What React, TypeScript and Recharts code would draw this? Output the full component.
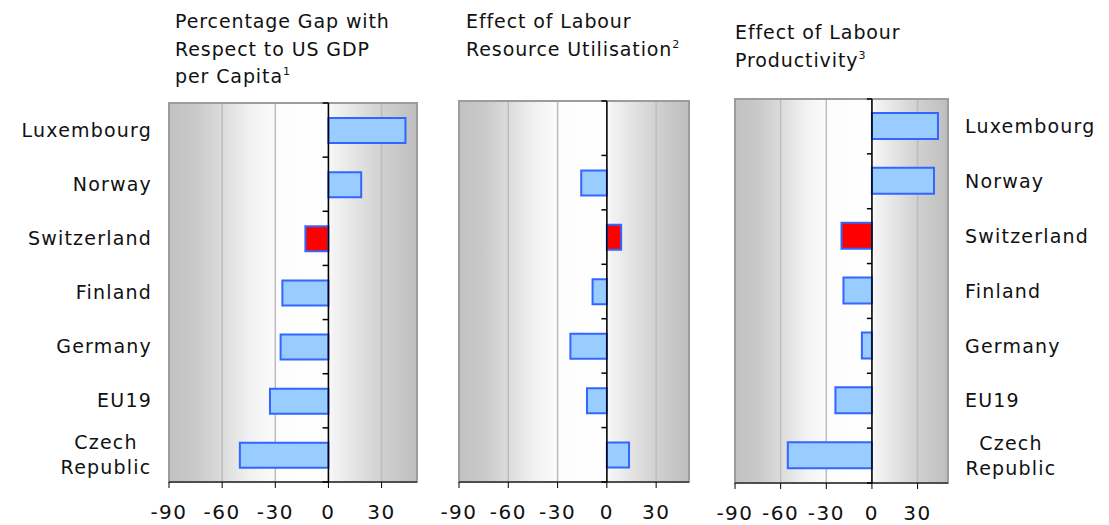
import React from "react";
import {
  BarChart,
  Bar,
  Cell,
  XAxis,
  YAxis,
  CartesianGrid,
  ReferenceLine,
  ReferenceArea,
} from "recharts";

const categories = [
  "Luxembourg",
  "Norway",
  "Switzerland",
  "Finland",
  "Germany",
  "EU19",
  "Czech\nRepublic",
];
const gapValues = [43.5, 18.5, -13, -26, -27, -33, -50];
const utilisationValues = [null, -15.6, 8.7, -8.7, -22.2, -12.1, 13.5];
const productivityValues = [43.4, 40.8, -20, -18.7, -6.6, -24, -55.3];
const xTicks = [-90, -60, -30, 0, 30];
const highlight = "Switzerland";

const FONT = "DejaVu Sans";
const TICK_LEN = 3.3; // length of the small category ticks on the zero line, in data units

function CatTick({ x, y, payload, side }: any) {
  const lines = String(payload.value).split("\n");
  const anchor = side === "left" ? "end" : "start";
  const common = {
    fill: "#111",
    fontSize: 19,
    fontFamily: FONT,
    letterSpacing: 1.2,
  };
  if (lines.length === 1) {
    return (
      <text x={x} y={y} dy="0.35em" textAnchor={anchor} {...common}>
        {lines[0]}
      </text>
    );
  }
  const cx = side === "left" ? x - 46 : x + 46;
  return (
    <text x={cx} y={y} textAnchor="middle" {...common}>
      <tspan x={cx} dy={-6}>
        {lines[0]}
      </tspan>
      <tspan x={cx} dy={25}>
        {lines[1]}
      </tspan>
    </text>
  );
}

function Panel({ id, values, left, width, margin, yWidth, side, barSize, xHeight }: any) {
  const data = categories.map((c, i) => ({ name: c, v: values[i] }));
  // band edges: start of every category, plus the end of the last one
  const edges = categories
    .map((c) => ({ c, pos: "start" }))
    .concat([{ c: categories[categories.length - 1], pos: "end" }]);
  return (
    <div style={{ position: "absolute", left, top: 0 }}>
      <BarChart
        width={width}
        height={525}
        layout="vertical"
        data={data}
        margin={margin}
      >
        <defs>
          <linearGradient id={id} x1="0" y1="0" x2="1" y2="0">
            <stop offset="0" stopColor="#c2c2c2" />
            <stop offset="0.1" stopColor="#c8c8c8" />
            <stop offset="0.22" stopColor="#dcdcdc" />
            <stop offset="0.32" stopColor="#f0f0f0" />
            <stop offset="0.43" stopColor="#fcfcfc" />
            <stop offset="0.64" stopColor="#ffffff" />
            <stop offset="0.66" stopColor="#f4f4f4" />
            <stop offset="0.86" stopColor="#d0d0d0" />
            <stop offset="1" stopColor="#bebebe" />
          </linearGradient>
        </defs>
        <CartesianGrid
          horizontal={false}
          stroke="#bcbcbc"
          strokeWidth={1.5}
          fill={`url(#${id})`}
          fillOpacity={1}
        />
        <XAxis
          type="number"
          domain={[-90, 50]}
          ticks={xTicks}
          interval={0}
          allowDataOverflow
          height={xHeight}
          stroke="#000"
          tickSize={6}
          tickMargin={17}
          tick={{ fill: "#111", fontSize: 20, fontFamily: FONT, letterSpacing: 1.5 }}
        />
        <YAxis
          type="category"
          dataKey="name"
          orientation={side === "right" ? "right" : "left"}
          width={yWidth}
          hide={side === "none"}
          axisLine={false}
          tickLine={false}
          tickSize={0}
          tickMargin={17}
          interval={0}
          tick={(p: any) => <CatTick {...p} side={side} />}
        />
        <ReferenceArea
          x1={-90}
          x2={50}
          fill="none"
          stroke="#9c9c9c"
          strokeWidth={2}
          ifOverflow="visible"
        />
        <Bar
          dataKey="v"
          barSize={barSize}
          stroke="#3366ff"
          strokeWidth={2}
          isAnimationActive={false}
        >
          {data.map((d) => (
            <Cell key={d.name} fill={d.name === highlight ? "#ff0000" : "#99ccff"} />
          ))}
        </Bar>
        <ReferenceLine x={0} stroke="#000" strokeWidth={1.5} />
        {edges.map((e, k) => (
          <ReferenceLine
            key={k}
            position={e.pos as any}
            segment={[
              { x: -TICK_LEN, y: e.c },
              { x: 0, y: e.c },
            ]}
            stroke="#000"
            strokeWidth={1.5}
            ifOverflow="visible"
          />
        ))}
      </BarChart>
    </div>
  );
}

function Title({ x, y, lines, sup }: any) {
  return (
    <text x={x} y={y} fontSize={19} fontFamily={FONT} fill="#111" letterSpacing={0.9}>
      {lines.map((l: string, i: number) => (
        <tspan key={i} x={x} dy={i === 0 ? 0 : 27.5}>
          {l}
          {i === lines.length - 1 ? (
            <tspan fontSize={11} dy={-8}>
              {sup}
            </tspan>
          ) : null}
        </tspan>
      ))}
    </text>
  );
}

export default function App() {
  return (
    <div
      style={{
        position: "absolute",
        left: 0,
        top: 0,
        width: 1109,
        height: 525,
        background: "#fff",
        overflow: "hidden",
      }}
    >
      <Panel
        id="bg1"
        values={gapValues}
        left={0}
        width={430}
        margin={{ top: 103, right: 13, bottom: 0, left: 0 }}
        yWidth={169}
        side="left"
        barSize={25}
        xHeight={43}
      />
      <Panel
        id="bg2"
        values={utilisationValues}
        left={430}
        width={279}
        margin={{ top: 101, right: 20, bottom: 0, left: 29 }}
        yWidth={0}
        side="none"
        barSize={25}
        xHeight={43}
      />
      <Panel
        id="bg3"
        values={productivityValues}
        left={700}
        width={409}
        margin={{ top: 99, right: 0, bottom: 0, left: 35 }}
        yWidth={161}
        side="right"
        barSize={26}
        xHeight={42}
      />
      <svg
        width={1109}
        height={100}
        style={{ position: "absolute", left: 0, top: 0, pointerEvents: "none" }}
      >
        <Title x={175} y={28} lines={["Percentage Gap with", "Respect to US GDP", "per Capita"]} sup="1" />
        <Title x={466} y={28} lines={["Effect of Labour", "Resource Utilisation"]} sup="2" />
        <Title x={735} y={39} lines={["Effect of Labour", "Productivity"]} sup="3" />
      </svg>
    </div>
  );
}
